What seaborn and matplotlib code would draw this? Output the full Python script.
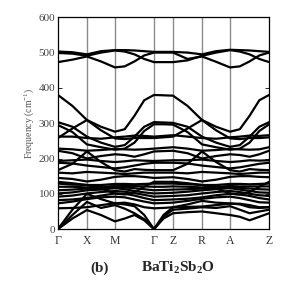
import matplotlib
matplotlib.use("Agg")
import matplotlib.pyplot as plt
import seaborn as sns
import pandas as pd

# k-path sample positions (distance along path)
kpath = [0, 14.5, 29, 43, 57, 66.75, 76.5, 86.25, 96, 105.5, 115,
         129.5, 144, 158, 172, 181.75, 191.5, 201.25, 211]
sym_pos = [0, 29, 57, 96, 115, 144, 172, 211]
sym_labels = ["Γ", "X", "M", "Γ", "Z", "R", "A", "Z"]

bands = {
    "t1": [503, 501, 495, 504, 507, 507, 506, 504, 502, 502, 502, 500, 495, 504, 508, 507, 506, 504, 502],
    "t2": [499, 497, 491, 500, 506, 503, 495, 482, 473, 473, 473, 478, 491, 500, 507, 503, 495, 482, 473],
    "t3": [473, 480, 489, 475, 458, 461, 475, 492, 500, 500, 500, 482, 489, 474, 458, 461, 475, 492, 500],
    "b15": [380, 349, 309, 290, 276, 283, 321, 365, 380, 379, 378, 349, 309, 290, 276, 283, 321, 365, 380],
    "b14": [303, 290, 262, 245, 233, 238, 262, 290, 303, 302, 301, 290, 262, 245, 233, 238, 262, 290, 303],
    "b13": [295, 275, 240, 232, 225, 228, 245, 278, 297, 297, 296, 275, 240, 232, 225, 228, 245, 278, 297],
    "b12": [258, 285, 309, 280, 257, 255, 258, 258, 258, 260, 262, 285, 309, 280, 257, 255, 258, 258, 260],
    "b11": [262, 262, 258, 256, 260, 262, 265, 264, 262, 264, 266, 262, 258, 256, 260, 262, 265, 264, 266],
    "b10": [228, 226, 222, 224, 227, 226, 225, 226, 228, 230, 232, 228, 222, 224, 227, 226, 225, 226, 232],
    "b9": [222, 215, 200, 207, 212, 210, 205, 212, 220, 221, 222, 215, 200, 207, 212, 210, 205, 212, 222],
    "b8": [193, 195, 197, 193, 190, 192, 195, 194, 193, 194, 195, 195, 197, 193, 190, 192, 195, 194, 195],
    "b7": [167, 185, 220, 190, 167, 163, 170, 168, 167, 167, 167, 185, 220, 190, 167, 163, 170, 168, 167],
    "o12": [188, 186, 180, 176, 172, 175, 180, 185, 188, 188, 188, 186, 180, 176, 172, 175, 180, 185, 188],
    "o11": [145, 142, 135, 140, 148, 150, 150, 148, 145, 146, 147, 142, 135, 140, 148, 150, 150, 148, 147],
    "o10": [160, 158, 162, 160, 158, 156, 158, 160, 160, 160, 160, 158, 162, 160, 158, 156, 158, 160, 160],
    "o9": [134, 130, 125, 115, 101, 98, 105, 120, 134, 134, 134, 130, 125, 115, 101, 98, 105, 120, 134],
    "o8": [129, 126, 125, 125, 128, 128, 127, 128, 129, 129, 129, 127, 125, 125, 128, 128, 127, 128, 129],
    "o7": [120, 120, 118, 120, 122, 122, 122, 121, 120, 120, 121, 120, 118, 120, 122, 121, 121, 121, 121],
    "o6": [110, 112, 115, 118, 120, 118, 116, 113, 110, 111, 112, 113, 115, 118, 120, 117, 115, 113, 112],
    "o5": [101, 104, 110, 112, 116, 113, 108, 104, 101, 102, 103, 106, 110, 113, 116, 112, 108, 104, 103],
    "o4": [92, 95, 101, 105, 108, 106, 102, 97, 92, 93, 94, 96, 101, 105, 108, 105, 100, 96, 94],
    "o3": [82, 84, 88, 95, 101, 100, 95, 88, 82, 83, 84, 86, 90, 96, 100, 98, 94, 88, 84],
    "o2": [73, 78, 85, 90, 92, 90, 84, 78, 73, 74, 75, 80, 86, 90, 92, 88, 82, 76, 75],
    "o1": [59, 60, 62, 68, 73, 75, 70, 62, 59, 60, 62, 63, 64, 68, 72, 72, 68, 62, 62],
    "a3": [0, 55, 100, 85, 73, 70, 65, 40, 0, 40, 62, 70, 80, 75, 73, 70, 62, 60, 62],
    "a2": [0, 40, 77, 60, 68, 58, 45, 28, 0, 35, 55, 58, 62, 60, 65, 55, 45, 50, 55],
    "a1": [0, 30, 54, 40, 22, 30, 40, 25, 0, 30, 45, 48, 50, 45, 40, 35, 25, 35, 45],
}

rows = []
for name, vals in bands.items():
    for k, f in zip(kpath, vals):
        rows.append({"k": k, "freq": f, "band": name})
df = pd.DataFrame(rows)

sns.set_style("white")
plt.rcParams["font.family"] = ["Liberation Serif", "DejaVu Serif"]
plt.rcParams["mathtext.fontset"] = "custom"
plt.rcParams["mathtext.rm"] = "Liberation Serif"
plt.rcParams["mathtext.it"] = "Liberation Serif:italic"
plt.rcParams["mathtext.bf"] = "Liberation Serif:bold"

fig = plt.figure(figsize=(3.0, 2.93), dpi=100)
ax = fig.add_axes([0.193, 0.218, 0.704, 0.723])

for p in sym_pos[1:-1]:
    ax.axvline(p, color="#8a8a8a", lw=1.0, zorder=1)

sns.lineplot(data=df, x="k", y="freq", units="band", estimator=None,
             color="black", lw=1.6, legend=False, sort=False, ax=ax, zorder=3)

ax.set_xlim(0, 211)
ax.set_ylim(0, 600)
ax.set_yticks([0, 100, 200, 300, 400, 500, 600])
ax.set_xticks(sym_pos)
ax.set_xticklabels(sym_labels)
ax.tick_params(axis="y", direction="in", length=3, width=0.7, labelsize=8,
               labelcolor="#444444", right=True, left=True, pad=2)
ax.tick_params(axis="x", length=0, labelsize=8.5, labelcolor="#333333", pad=4)
ax.set_xlabel("")
ax.set_ylabel("Frequency (cm$^{-1}$)", fontsize=7, color="#555555", labelpad=2)
for s in ax.spines.values():
    s.set_color("black")
    s.set_linewidth(0.9)

fig.text(0.333, 0.085, "(b)", fontsize=11, fontweight="bold", ha="center", va="center")
fig.text(0.593, 0.085, r"BaTi$_\mathbf{2}$Sb$_\mathbf{2}$O", fontsize=11, fontweight="bold",
         ha="center", va="center")

fig.savefig("out.png", dpi=100)
